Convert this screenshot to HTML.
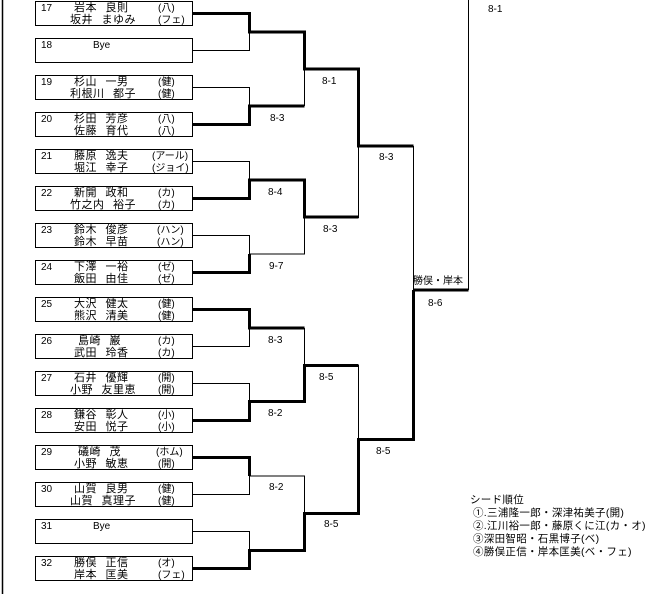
<!DOCTYPE html>
<html><head><meta charset="utf-8"><style>
html,body{margin:0;padding:0;background:#fff;width:646px;height:594px;overflow:hidden}
svg{display:block}
text{font-family:"Liberation Sans","Noto Sans CJK JP","IPAGothic",sans-serif;font-size:10px;fill:#000}
.n{font-size:11px;word-spacing:5px;letter-spacing:0.5px}
.s{font-size:10.5px;letter-spacing:0.3px}
</style></head><body>
<svg width="646" height="594" viewBox="0 0 646 594" xmlns="http://www.w3.org/2000/svg">
<line x1="2.5" y1="0" x2="2.5" y2="594" stroke="#000" stroke-width="1.5"/>
<g fill="none" stroke="#000">
<g stroke-width="1">
<rect x="35.5" y="1.5" width="157" height="24"/>
<rect x="35.5" y="38.5" width="157" height="24"/>
<rect x="35.5" y="75.5" width="157" height="24"/>
<rect x="35.5" y="112.5" width="157" height="24"/>
<rect x="35.5" y="149.5" width="157" height="24"/>
<rect x="35.5" y="186.5" width="157" height="24"/>
<rect x="35.5" y="223.5" width="157" height="24"/>
<rect x="35.5" y="260.5" width="157" height="24"/>
<rect x="35.5" y="297.5" width="157" height="24"/>
<rect x="35.5" y="334.5" width="157" height="24"/>
<rect x="35.5" y="371.5" width="157" height="24"/>
<rect x="35.5" y="408.5" width="157" height="24"/>
<rect x="35.5" y="445.5" width="157" height="24"/>
<rect x="35.5" y="482.5" width="157" height="24"/>
<rect x="35.5" y="519.5" width="157" height="24"/>
<rect x="35.5" y="556.5" width="157" height="24"/>
</g>
<g stroke-width="1">
<path d="M192 50.5H249.5V32"/>
<path d="M192 87.5H249.5V106"/>
<path d="M304.5 69V106"/>
<path d="M192 161.5H249.5V180"/>
<path d="M192 235.5H249.5V254H304.5V217"/>
<path d="M358.5 146V217.5H304"/>
<path d="M413.5 146V290"/>
<path d="M468.5 0V290"/>
<path d="M192 346.5H249.5V328"/>
<path d="M192 383.5H249.5V401"/>
<path d="M304.5 328V365"/>
<path d="M358.5 365V439"/>
<path d="M192 494.5H249.5V476H304.5V513"/>
<path d="M192 531.5H249.5V550"/>
</g>
<g stroke-width="3">
<path d="M192 13.5H249.5V32H304.5V69H358.5V146H413.5"/>
<path d="M192 124.5H249.5V106H304.5"/>
<path d="M192 198.5H249.5V180H304.5V217H358.5"/>
<path d="M192 272.5H249.5V254"/>
<path d="M413.5 290H468.5"/>
<path d="M192 309.5H249.5V328H304.5"/>
<path d="M192 420.5H249.5V401.5H304.5V365.5H358.5"/>
<path d="M413.5 290V439.5H358.5V513.5H304.5V550.5H249.5V568.5H192"/>
<path d="M192 457.5H249.5V476"/>
</g>
</g>
<g>
<text x="41" y="11">17</text><text class="n" x="74" y="11">岩本 良則</text><text x="158" y="11">(八)</text><text class="n" x="70" y="23">坂井 まゆみ</text><text x="158" y="23">(フェ)</text>
<text x="41" y="48">18</text><text x="93" y="48">Bye</text>
<text x="41" y="85">19</text><text class="n" x="74" y="85">杉山 一男</text><text x="158" y="85">(健)</text><text class="n" x="70" y="97">利根川 都子</text><text x="158" y="97">(健)</text>
<text x="41" y="122">20</text><text class="n" x="74" y="122">杉田 芳彦</text><text x="158" y="122">(八)</text><text class="n" x="74" y="134">佐藤 育代</text><text x="158" y="134">(八)</text>
<text x="41" y="159">21</text><text class="n" x="74" y="159">藤原 逸夫</text><text x="152" y="159">(アール)</text><text class="n" x="74" y="171">堀江 幸子</text><text x="152" y="171">(ジョイ)</text>
<text x="41" y="196">22</text><text class="n" x="74" y="196">新開 政和</text><text x="158" y="196">(カ)</text><text class="n" x="70" y="208">竹之内 裕子</text><text x="158" y="208">(カ)</text>
<text x="41" y="233">23</text><text class="n" x="74" y="233">鈴木 俊彦</text><text x="157" y="233">(ハン)</text><text class="n" x="74" y="245">鈴木 早苗</text><text x="157" y="245">(ハン)</text>
<text x="41" y="270">24</text><text class="n" x="74" y="270">下澤 一裕</text><text x="158" y="270">(ゼ)</text><text class="n" x="74" y="282">飯田 由佳</text><text x="158" y="282">(ゼ)</text>
<text x="41" y="307">25</text><text class="n" x="74" y="307">大沢 健太</text><text x="158" y="307">(健)</text><text class="n" x="74" y="319">熊沢 清美</text><text x="158" y="319">(健)</text>
<text x="41" y="344">26</text><text class="n" x="78" y="344">島崎 巌</text><text x="158" y="344">(カ)</text><text class="n" x="74" y="356">武田 玲香</text><text x="158" y="356">(カ)</text>
<text x="41" y="381">27</text><text class="n" x="74" y="381">石井 優輝</text><text x="158" y="381">(開)</text><text class="n" x="70" y="393">小野 友里恵</text><text x="158" y="393">(開)</text>
<text x="41" y="418">28</text><text class="n" x="74" y="418">鎌谷 彰人</text><text x="158" y="418">(小)</text><text class="n" x="74" y="430">安田 悦子</text><text x="158" y="430">(小)</text>
<text x="41" y="455">29</text><text class="n" x="78" y="455">礒崎 茂</text><text x="156" y="455">(ホム)</text><text class="n" x="74" y="467">小野 敏恵</text><text x="158" y="467">(開)</text>
<text x="41" y="492">30</text><text class="n" x="74" y="492">山賀 良男</text><text x="158" y="492">(健)</text><text class="n" x="70" y="504">山賀 真理子</text><text x="158" y="504">(健)</text>
<text x="41" y="529">31</text><text x="93" y="529">Bye</text>
<text x="41" y="566">32</text><text class="n" x="74" y="566">勝俣 正信</text><text x="158" y="566">(オ)</text><text class="n" x="74" y="578">岸本 匡美</text><text x="158" y="578">(フェ)</text>
</g>
<g font-size="11">
<text x="322" y="84">8-1</text>
<text x="270" y="121">8-3</text>
<text x="379" y="160">8-3</text>
<text x="268" y="195">8-4</text>
<text x="323" y="232">8-3</text>
<text x="269" y="269">9-7</text>
<text x="413" y="284" font-size="11.5">勝俣・岸本</text>
<text x="428" y="306">8-6</text>
<text x="488" y="12">8-1</text>
<text x="268" y="343">8-3</text>
<text x="319" y="380">8-5</text>
<text x="268" y="416">8-2</text>
<text x="376" y="454">8-5</text>
<text x="269" y="490">8-2</text>
<text x="324" y="527">8-5</text>
</g>
<g>
<text class="s" x="470" y="503">シード順位</text>
<text class="s" x="473" y="516">①.三浦隆一郎・深津祐美子(開)</text>
<text class="s" x="473" y="529">②.江川裕一郎・藤原くに江(カ・オ)</text>
<text class="s" x="473" y="542">③深田智昭・石黒博子(ベ)</text>
<text class="s" x="473" y="555">④勝俣正信・岸本匡美(ベ・フェ)</text>
</g>
</svg>
</body></html>
